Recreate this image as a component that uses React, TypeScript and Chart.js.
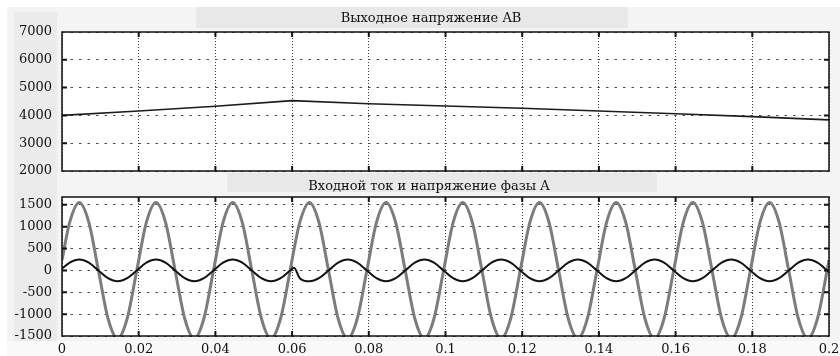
import React, { useEffect, useRef } from "react";
import { Chart, registerables } from "chart.js";

Chart.register(...registerables);

// ---------- data ----------
const xTicks = [0, 0.02, 0.04, 0.06, 0.08, 0.1, 0.12, 0.14, 0.16, 0.18, 0.2];
const xTickLabels = ["0", "0.02", "0.04", "0.06", "0.08", "0.1", "0.12", "0.14", "0.16", "0.18", "0.2"];
const topYTicks = [2000, 3000, 4000, 5000, 6000, 7000];
const bottomYTicks = [-1500, -1000, -500, 0, 500, 1000, 1500];

const topTitle = "Выходное напряжение AB";
const bottomTitle = "Входной ток и напряжение фазы A";

// output DC voltage AB
const dcTimes = [0, 0.02, 0.04, 0.06, 0.08, 0.1, 0.12, 0.14, 0.16, 0.18, 0.2];
const dcVoltageAB = [4000, 4160, 4330, 4530, 4420, 4340, 4255, 4160, 4060, 3955, 3840];

// phase A samples
const phaseTimes = [
  0,
  0.002, 0.0045, 0.007, 0.0095, 0.012, 0.0145, 0.017, 0.0195,
  0.022, 0.0245, 0.027, 0.0295, 0.032, 0.0345, 0.037, 0.0395,
  0.042, 0.0445, 0.047, 0.0495, 0.052, 0.0545, 0.057, 0.0595,
  0.0605,
  0.062, 0.0645, 0.067, 0.0695, 0.072, 0.0745, 0.077, 0.0795,
  0.082, 0.0845, 0.087, 0.0895, 0.092, 0.0945, 0.097, 0.0995,
  0.102, 0.1045, 0.107, 0.1095, 0.112, 0.1145, 0.117, 0.1195,
  0.122, 0.1245, 0.127, 0.1295, 0.132, 0.1345, 0.137, 0.1395,
  0.142, 0.1445, 0.147, 0.1495, 0.152, 0.1545, 0.157, 0.1595,
  0.162, 0.1645, 0.167, 0.1695, 0.172, 0.1745, 0.177, 0.1795,
  0.182, 0.1845, 0.187, 0.1895, 0.192, 0.1945, 0.197, 0.1995,
  0.2,
];

const phaseVoltageA = [
  240,
  1100, 1555, 1100, 0, -1100, -1560, -1100, 0,
  1100, 1555, 1100, 0, -1100, -1560, -1100, 0,
  1100, 1555, 1100, 0, -1100, -1560, -1100, 0,
  480,
  1100, 1555, 1100, 0, -1100, -1560, -1100, 0,
  1100, 1555, 1100, 0, -1100, -1560, -1100, 0,
  1100, 1555, 1100, 0, -1100, -1560, -1100, 0,
  1100, 1555, 1100, 0, -1100, -1560, -1100, 0,
  1100, 1555, 1100, 0, -1100, -1560, -1100, 0,
  1100, 1555, 1100, 0, -1100, -1560, -1100, 0,
  1100, 1555, 1100, 0, -1100, -1560, -1100, 0,
  240,
];

const phaseCurrentA = [
  40,
  177, 250, 177, 0, -177, -250, -177, 0,
  177, 250, 177, 0, -177, -250, -177, 0,
  177, 250, 177, 0, -177, -250, -177, 0,
  60,
  -177, -250, -177, 0, 177, 250, 177, 0,
  -177, -250, -177, 0, 177, 250, 177, 0,
  -177, -250, -177, 0, 177, 250, 177, 0,
  -177, -250, -177, 0, 177, 250, 177, 0,
  -177, -250, -177, 0, 177, 250, 177, 0,
  -177, -250, -177, 0, 177, 250, 177, 0,
  -177, -250, -177, 0, 177, 250, 177, 0,
  -40,
];

// ---------- styling ----------
const FONT = "'DejaVu Serif', 'Liberation Serif', serif";
const TICK_FONT = { family: FONT, size: 13 };

function framePlugin(title: string, titleX: number, titleY: number) {
  return {
    id: "frame",
    beforeDraw(chart: any) {
      const { ctx, chartArea } = chart;
      const { left, top, right, bottom } = chartArea;
      ctx.save();
      ctx.fillStyle = "#ffffff";
      ctx.fillRect(left, top, right - left, bottom - top);
      ctx.fillStyle = "#111111";
      ctx.font = `13px ${FONT}`;
      ctx.textAlign = "center";
      ctx.textBaseline = "alphabetic";
      ctx.fillText(title, titleX, titleY);
      ctx.restore();
    },
    afterDraw(chart: any) {
      const { ctx, chartArea, scales } = chart;
      const { left, top, right, bottom } = chartArea;
      ctx.save();
      ctx.setLineDash([]);
      ctx.strokeStyle = "#111111";
      ctx.lineWidth = 1.5;
      ctx.strokeRect(left, top, right - left, bottom - top);
      ctx.lineWidth = 2;
      ctx.beginPath();
      scales.x.ticks.forEach((t: any) => {
        const px = scales.x.getPixelForValue(t.value);
        if (px <= left + 1 || px >= right - 1) return;
        ctx.moveTo(px, bottom);
        ctx.lineTo(px, bottom - 5);
        ctx.moveTo(px, top);
        ctx.lineTo(px, top + 5);
      });
      scales.y.ticks.forEach((t: any) => {
        const py = scales.y.getPixelForValue(t.value);
        if (py <= top + 1 || py >= bottom - 1) return;
        ctx.moveTo(left, py);
        ctx.lineTo(left + 5, py);
        ctx.moveTo(right, py);
        ctx.lineTo(right - 5, py);
      });
      ctx.stroke();
      ctx.restore();
    },
  };
}

function xScale(showLabels: boolean, axisHeight: number) {
  return {
    type: "linear",
    min: 0,
    max: 0.2,
    afterBuildTicks: (s: any) => {
      s.ticks = xTicks.map((v) => ({ value: v }));
    },
    ticks: {
      display: showLabels,
      autoSkip: false,
      maxRotation: 0,
      padding: 6,
      color: "#111111",
      font: TICK_FONT,
      callback: (_v: any, i: number) => xTickLabels[i],
    },
    grid: { color: "#3a3a3a", lineWidth: 1, drawTicks: false },
    border: { display: false, dash: [1, 2] },
    afterFit: (s: any) => {
      s.height = axisHeight;
      s.paddingLeft = 0;
      s.paddingRight = 0;
    },
  };
}

function yScale(min: number, max: number, ticks: number[]) {
  return {
    type: "linear",
    min,
    max,
    afterBuildTicks: (s: any) => {
      s.ticks = ticks.map((v) => ({ value: v }));
    },
    ticks: {
      padding: 10,
      color: "#111111",
      font: TICK_FONT,
      callback: (v: any) => String(v),
    },
    grid: { color: "#4a4a4a", lineWidth: 1, drawTicks: false },
    border: { display: false, dash: [2.5, 6] },
    afterFit: (s: any) => {
      s.width = 62;
      s.paddingTop = 0;
      s.paddingBottom = 0;
    },
  };
}

export default function App() {
  const topRef = useRef<HTMLCanvasElement | null>(null);
  const bottomRef = useRef<HTMLCanvasElement | null>(null);

  useEffect(() => {
    const topChart = new Chart(topRef.current as HTMLCanvasElement, {
      type: "line",
      data: {
        datasets: [
          {
            data: dcTimes.map((t, i) => ({ x: t, y: dcVoltageAB[i] })),
            borderColor: "#1c1c1c",
            borderWidth: 1.6,
            pointRadius: 0,
            tension: 0,
            clip: 0,
          },
        ],
      },
      options: {
        responsive: false,
        animation: false,
        devicePixelRatio: 1,
        layout: { padding: { left: 0, top: 32, right: 11, bottom: 9 } },
        plugins: { legend: { display: false }, tooltip: { enabled: false }, title: { display: false } },
        scales: {
          x: xScale(false, 0),
          y: yScale(2000, 7000, topYTicks),
        },
      } as any,
      plugins: [framePlugin(topTitle, 431, 22)],
    });

    const bottomChart = new Chart(bottomRef.current as HTMLCanvasElement, {
      type: "line",
      data: {
        datasets: [
          {
            data: phaseTimes.map((t, i) => ({ x: t, y: phaseCurrentA[i] })),
            borderColor: "#111111",
            borderWidth: 2,
            pointRadius: 0,
            tension: 0.4,
            cubicInterpolationMode: "monotone",
            clip: 0,
          },
          {
            data: phaseTimes.map((t, i) => ({ x: t, y: phaseVoltageA[i] })),
            borderColor: "#7c7c7c",
            borderWidth: 3,
            pointRadius: 0,
            tension: 0.4,
            cubicInterpolationMode: "monotone",
            clip: 0,
          },
        ],
      },
      options: {
        responsive: false,
        animation: false,
        devicePixelRatio: 1,
        layout: { padding: { left: 0, top: 25, right: 11, bottom: 0 } },
        plugins: { legend: { display: false }, tooltip: { enabled: false }, title: { display: false } },
        scales: {
          x: xScale(true, 20),
          y: yScale(-1500, 1680, bottomYTicks),
        },
      } as any,
      plugins: [framePlugin(bottomTitle, 429, 17.5)],
    });

    return () => {
      topChart.destroy();
      bottomChart.destroy();
    };
  }, []);

  const box = (l: number, t: number, w: number, h: number, bg: string): React.CSSProperties => ({
    position: "absolute",
    left: l,
    top: t,
    width: w,
    height: h,
    background: bg,
  });

  return (
    <div
      style={{
        position: "fixed",
        left: 0,
        top: 0,
        width: 840,
        height: 356,
        overflow: "hidden",
        background: "#f4f4f4",
      }}
    >
      <div style={box(0, 0, 840, 7, "#ffffff")} />
      <div style={box(0, 0, 7, 356, "#ffffff")} />
      <div style={box(14, 12, 43, 330, "#ebebeb")} />
      <div style={box(196, 7, 432, 21, "#e8e8e8")} />
      <div style={box(227, 173, 430, 19, "#e8e8e8")} />
      <div style={box(7, 341, 833, 15, "#f9f9f9")} />
      <canvas ref={topRef} width={840} height={180} style={{ position: "absolute", left: 0, top: 0 }} />
      <canvas ref={bottomRef} width={840} height={184} style={{ position: "absolute", left: 0, top: 172 }} />
    </div>
  );
}
